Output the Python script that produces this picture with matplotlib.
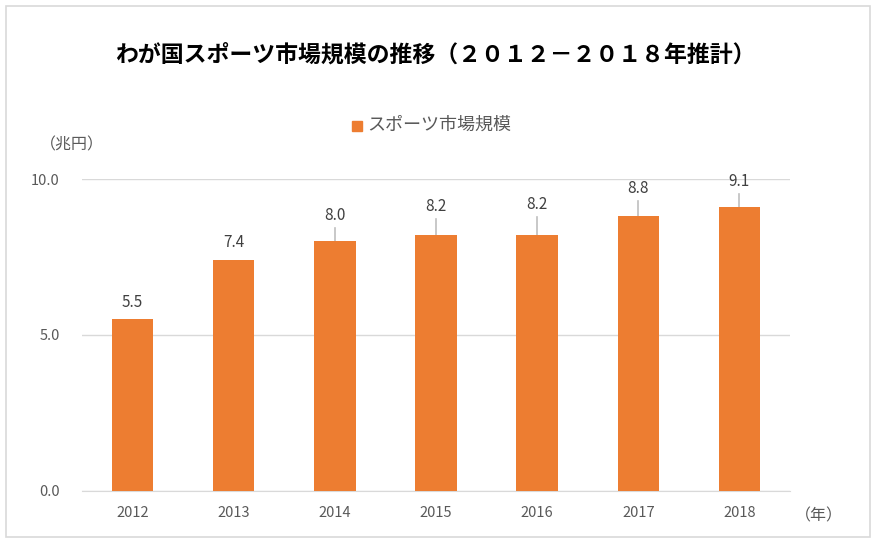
import matplotlib.pyplot as plt
from matplotlib.patches import Rectangle

plt.rcParams['font.family'] = ['Noto Sans CJK JP', 'DejaVu Sans']

# データ
years = ['2012', '2013', '2014', '2015', '2016', '2017', '2018']
market_size = [5.5, 7.4, 8.0, 8.2, 8.2, 8.8, 9.1]
# ラベル中心の上方向のずらし（兆円単位）
label_offset = [0.55, 0.58, 0.83, 0.93, 0.99, 0.9, 0.83]

title = 'わが国スポーツ市場規模の推移（２０１２－２０１８年推計）'
series_name = 'スポーツ市場規模'
bar_color = '#ED7D31'
text_gray = '#595959'

fig = plt.figure(figsize=(8.8, 5.42), dpi=100)
ax = fig.add_axes([82 / 880, 51 / 542, 708 / 880, 312 / 542])

x = list(range(len(years)))
ax.bar(x, market_size, width=0.41, color=bar_color, zorder=3)

# データラベルと引き出し線
for xi, v, off in zip(x, market_size, label_offset):
    ty = v + off
    ax.text(xi, ty, f'{v:.1f}', ha='center', va='center', fontsize=11,
            color='#404040', zorder=4)
    if off > 0.7:
        ax.plot([xi, xi], [v, ty - 0.4], color='#bfbfbf', lw=1.2, zorder=2,
                clip_on=False)

ax.set_xlim(-0.5, len(years) - 0.5)
ax.set_ylim(0, 10)
ax.set_yticks([0, 5, 10])
ax.set_yticklabels(['0.0', '5.0', '10.0'])
ax.set_xticks(x)
ax.set_xticklabels(years)
ax.tick_params(length=0, labelsize=10.5, colors=text_gray)
ax.tick_params(axis='x', pad=11)
ax.tick_params(axis='y', pad=16)
ax.grid(axis='y', color='#d9d9d9', lw=1, zorder=0)
for s in ['top', 'right', 'left']:
    ax.spines[s].set_visible(False)
ax.spines['bottom'].set_color('#d9d9d9')

fig.text(435 / 880, 1 - 55 / 542, title, ha='center', va='center',
         fontsize=16.5, fontweight='bold', color='black')

# 凡例
fig.patches.append(Rectangle((352 / 880, 1 - 131 / 542), 10 / 880, 10 / 542,
                             transform=fig.transFigure, color=bar_color))
fig.text(367 / 880, 1 - 125 / 542, series_name, ha='left', va='center',
         fontsize=13, color=text_gray)

fig.text(40 / 880, 1 - 145 / 542, '（兆円）', ha='left', va='center',
         fontsize=11.5, color=text_gray)
fig.text(795 / 880, 1 - 516 / 542, '（年）', ha='left', va='center',
         fontsize=11.5, color=text_gray)

# 外枠
fig.patches.append(Rectangle((6 / 880, 5 / 542), 864 / 880, 531 / 542,
                             transform=fig.transFigure, fill=False,
                             edgecolor='#d9d9d9', lw=1.2))

fig.savefig('out.png', dpi=100)
